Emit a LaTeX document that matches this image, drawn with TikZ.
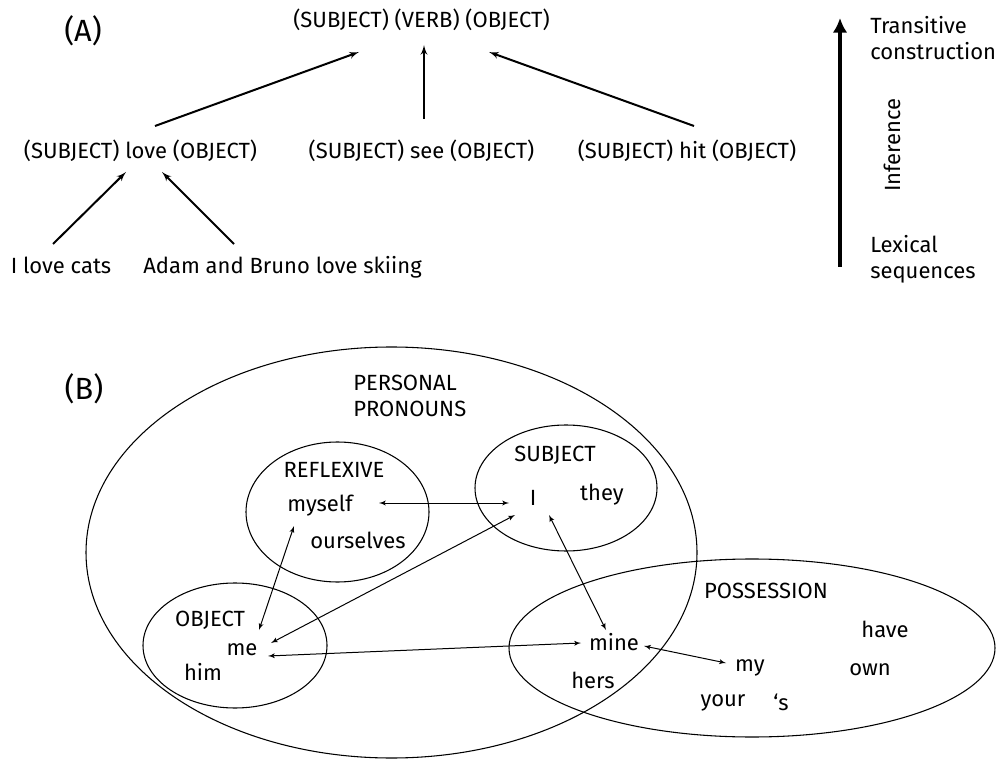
\documentclass[tikz,border=0pt]{standalone}
\usepackage{fontspec}
\setmainfont{Fira Sans}
\usepackage{tikz}
\usetikzlibrary{shapes}
\usetikzlibrary{arrows,arrows.meta}
\usetikzlibrary{calc}
\tikzset{
  word/.style={anchor=base,inner sep=0pt,font=\fontsize{16.5}{19.5}\selectfont},
  panel/.style={word,font=\fontsize{23}{27}\selectfont},
  lines/.style={anchor=west,inner sep=0pt,align=left,font=\fontsize{16.5}{19.5}\selectfont},
  tree edge/.style={->,line width=1.5pt},
  set/.style={line width=0.8pt},
  link/.style={<->,line width=0.75pt}
}

\begin{document}
\begin{tikzpicture}[x=0.75pt,y=-0.75pt,>=latex']
  \useasboundingbox (0,0) rectangle (1006,762);
  \node [panel] (a) at (83,42) {(A)};
  \node [word] (1) at (421.5,28) {(SUBJECT) (VERB) (OBJECT)};
  \node [word] (2) at (140.5,159) {(SUBJECT) love (OBJECT)};
  \node [word] (3) at (421.5,159) {(SUBJECT) see (OBJECT)};
  \node [word] (4) at (687,159) {(SUBJECT) hit (OBJECT)};
  \node [word] (5) at (61,274) {I love cats};
  \node [word] (6) at (282.5,274) {Adam and Bruno love skiing};
  \draw [tree edge] ($(2.base)+(14.5,-33)$) -- ($(1.base)+(-62.5,24)$);
  \draw [tree edge] ($(3.base)+(2.5,-40)$) -- ($(1.base)+(2.5,17)$);
  \draw [tree edge] ($(4.base)+(7,-33)$) -- ($(1.base)+(67.5,24)$);
  \draw [tree edge] ($(5.base)+(-8,-30)$) -- ($(2.base)+(-14.5,13)$);
  \draw [tree edge] ($(6.base)+(-48.5,-30)$) -- ($(2.base)+(21.5,13)$);
  \coordinate (low) at (840,267);
  \coordinate (high) at (840,18);
  \draw [-{Latex[length=11pt,width=11pt]},line width=2.6pt] (low) -- (high);
  \node [lines] (7) at (870,38.5) {Transitive\\construction};
  \node [word,rotate=90] (8) at (900,145) {Inference};
  \node [lines] (9) at (870,259) {Lexical\\sequences};

  \node [panel] (b) at (84,400) {(B)};
  \draw [set] (391.5,552.5) ellipse [x radius=305.5, y radius=205.5];
  \draw [set] (337.5,512) ellipse [x radius=91.5, y radius=70];
  \draw [set] (566,488) ellipse [x radius=91, y radius=63];
  \draw [set] (235,645.5) ellipse [x radius=92, y radius=62.5];
  \draw [set] (752,648) ellipse [x radius=243, y radius=89];
  \node [lines] (10) at (353,395.5) {PERSONAL\\PRONOUNS};
  \node [word] (11) at (334,478) {REFLEXIVE};
  \node [word] (12) at (320,511) {myself};
  \node [word] (13) at (358,548) {ourselves};
  \node [word] (14) at (555,461) {SUBJECT};
  \node [word] (15) at (533,505) {I};
  \node [word] (16) at (602,500) {they};
  \node [word] (17) at (210,626) {OBJECT};
  \node [word] (18) at (242,655) {me};
  \node [word] (19) at (203,680) {him};
  \node [word] (20) at (766,598) {POSSESSION};
  \node [word] (21) at (614,650) {mine};
  \node [word] (22) at (593,688) {hers};
  \node [word] (23) at (750,671) {my};
  \node [word] (24) at (723,706) {your};
  \node [word] (25) at (781,710) {‘s};
  \node [word] (26) at (885,637) {have};
  \node [word] (27) at (870,675) {own};
  \draw [link] ($(12.base)+(59,-8)$) -- ($(15.base)+(-24,-2)$);
  \draw [link] ($(18.base)+(17,-25)$) -- ($(12.base)+(-26,15)$);
  \draw [link] ($(18.base)+(29,-12)$) -- ($(15.base)+(-18,10)$);
  \draw [link] ($(18.base)+(26,1)$) -- ($(21.base)+(-33,-7)$);
  \draw [link] ($(15.base)+(16,10)$) -- ($(21.base)+(-8,-20)$);
  \draw [link] ($(21.base)+(30,-4)$) -- ($(23.base)+(-24,-8)$);
\end{tikzpicture}
\end{document}
